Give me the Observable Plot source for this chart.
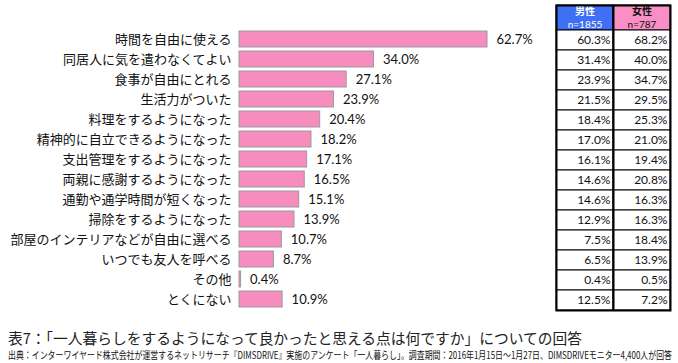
<!DOCTYPE html>
<html>
<head>
<meta charset="utf-8">
<script src="https://cdn.jsdelivr.net/npm/d3@7"></script>
<script src="https://cdn.jsdelivr.net/npm/@observablehq/plot@0.6"></script>
<style>
  html, body { margin: 0; padding: 0; background: #fff; }
  #wrap { position: relative; width: 678px; height: 363px; overflow: hidden; font-family: "Noto Sans CJK JP", sans-serif; }
  #wrap svg { position: absolute; left: 0; top: 0; }
  .line { position: absolute; left: 8px; white-space: nowrap; transform-origin: 0 50%; }
  #title { top: 327px; font-size: 15px; color: #222; }
  #caption { top: 347px; font-size: 10px; color: #111; }
</style>
</head>
<body>
<div id="wrap">
  <div id="chart"></div>
  <div id="table"></div>
  <div id="title" class="line">表7：「一人暮らしをするようになって良かったと思える点は何ですか」についての回答</div>
  <div id="caption" class="line">出典：インターワイヤード株式会社が運営するネットリサーチ『DIMSDRIVE』実施のアンケート「一人暮らし」。調査期間：2016年1月15日～1月27日、DIMSDRIVEモニター4,400人が回答</div>
</div>
<script>
const categories = [
  "時間を自由に使える",
  "同居人に気を遣わなくてよい",
  "食事が自由にとれる",
  "生活力がついた",
  "料理をするようになった",
  "精神的に自立できるようになった",
  "支出管理をするようになった",
  "両親に感謝するようになった",
  "通勤や通学時間が短くなった",
  "掃除をするようになった",
  "部屋のインテリアなどが自由に選べる",
  "いつでも友人を呼べる",
  "その他",
  "とくにない"
];
const overall = [62.7, 34.0, 27.1, 23.9, 20.4, 18.2, 17.1, 16.5, 15.1, 13.9, 10.7, 8.7, 0.4, 10.9];
const male    = [60.3, 31.4, 23.9, 21.5, 18.4, 17.0, 16.1, 14.6, 14.6, 12.9, 7.5, 6.5, 0.4, 12.5];
const female  = [68.2, 40.0, 34.7, 29.5, 25.3, 21.0, 19.4, 20.8, 16.3, 16.3, 18.4, 13.9, 0.5, 7.2];
const groups = ["男性", "女性"];
const sizes = ["n=1855", "n=787"];

const rows = categories.map((c, i) => ({category: c, value: overall[i], male: male[i], female: female[i], row: i}));
const cells = rows.flatMap(r => [{col: 0, row: r.row, v: r.male}, {col: 1, row: r.row, v: r.female}]);
const headers = groups.map((g, i) => ({col: i, group: g, n: sizes[i]}));
const fmt = v => v.toFixed(1) + "%";

const BAR_PINK = "#f78cbf";
const HEAD_FILL = ["#3f6ff5", "#f98fc4"];
const HEAD_TEXT = ["#ffffff", "#111111"];

const chart = Plot.plot({
  width: 678,
  height: 316,
  marginLeft: 239,
  marginRight: 191,
  marginTop: 25,
  marginBottom: 4,
  x: {domain: [0, 62.7], axis: null},
  y: {domain: categories, padding: 0.2, axis: null},
  style: {fontFamily: "'Noto Sans CJK JP', sans-serif", fontSize: "13px", color: "#000", background: "transparent"},
  marks: [
    Plot.barX(rows, {x: "value", y: "category", fill: BAR_PINK, stroke: "#9a9a9a", strokeWidth: 1}),
    Plot.text(rows, {x: "value", y: "category", text: d => fmt(d.value), textAnchor: "start", dx: 9,
      fontFamily: "Lato, sans-serif", fontSize: 13, fill: "#111"}),
    Plot.axisY({tickSize: 0, tickPadding: 8, fontSize: 13, label: null, fill: "#111"})
  ]
});
document.getElementById("chart").append(chart);

const table = Plot.plot({
  width: 678,
  height: 316,
  marginLeft: 556,
  marginRight: 8,
  marginTop: 5,
  marginBottom: 6,
  x: {type: "linear", domain: [0, 2], axis: null},
  y: {type: "linear", domain: [-1.25, 14], reverse: true, axis: null},
  color: {type: "identity"},
  style: {fontFamily: "'Noto Sans CJK JP', sans-serif", background: "transparent"},
  marks: [
    Plot.rect(headers, {x1: "col", x2: d => d.col + 1, y1: -1.25, y2: 0, fill: d => HEAD_FILL[d.col], stroke: "#000", strokeWidth: 1}),
    Plot.text(headers, {x: d => d.col + 0.5, y: -0.95, text: "group", fill: d => HEAD_TEXT[d.col], fontWeight: "bold", fontSize: 10}),
    Plot.text(headers, {x: d => d.col + 0.5, y: -0.3, text: "n", fill: d => HEAD_TEXT[d.col], fontSize: 10, fontFamily: "Lato, sans-serif"}),
    Plot.rect(cells, {x1: "col", x2: d => d.col + 1, y1: "row", y2: d => d.row + 1, fill: "#fff", stroke: "#000", strokeWidth: 1}),
    Plot.text(cells, {x: d => d.col + 1, y: d => d.row + 0.5, text: d => fmt(d.v), textAnchor: "end", dx: -3, fontSize: 12, fill: "#111", fontFamily: "Lato, sans-serif"}),
    Plot.ruleX([1], {stroke: "#000", strokeWidth: 2}),
    Plot.frame({stroke: "#000", strokeWidth: 2})
  ]
});
document.getElementById("table").append(table);

function fitWidth(id, target) {
  const el = document.getElementById(id);
  const w = el.getBoundingClientRect().width;
  if (w > 0) el.style.transform = `scaleX(${target / w})`;
}
fitWidth("title", 574);
fitWidth("caption", 664);
</script>
</body>
</html>
